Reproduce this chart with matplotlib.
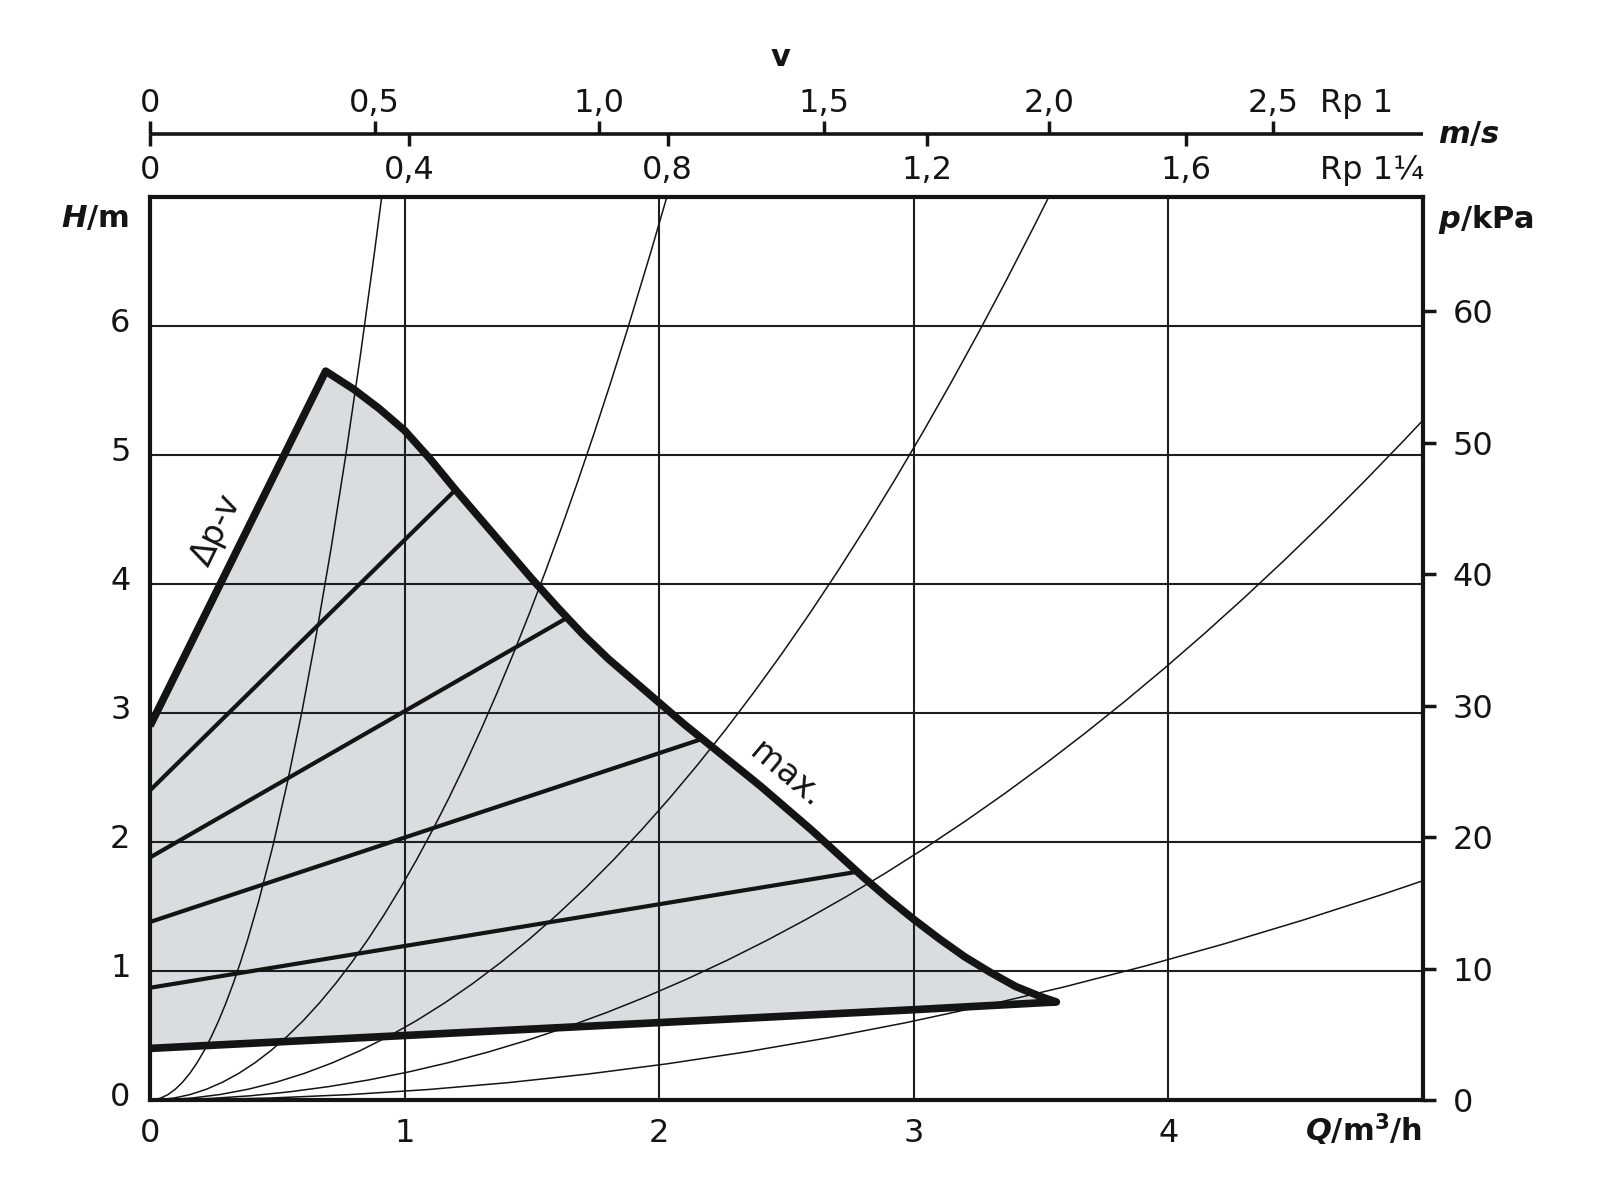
import matplotlib
matplotlib.use('Agg')
import matplotlib.pyplot as plt
import matplotlib.transforms as mtransforms
from matplotlib.path import Path
from matplotlib.patches import PathPatch
import numpy as np

plt.rcParams['font.family'] = ['DejaVu Sans']
plt.rcParams['mathtext.fontset'] = 'custom'
plt.rcParams['mathtext.it'] = 'DejaVu Sans:italic:bold'
plt.rcParams['mathtext.rm'] = 'DejaVu Sans:bold'
plt.rcParams['mathtext.bf'] = 'DejaVu Sans:bold'

# pump field (Q in m3/h, H in m)
q_dpv = [0.0, 0.69]
h_dpv = [2.90, 5.65]
q_max = [0.69, 0.80, 0.90, 1.00, 1.10, 1.20, 1.30, 1.40, 1.50, 1.60, 1.70,
         1.80, 1.90, 2.00, 2.10, 2.20, 2.30, 2.40, 2.50, 2.60, 2.70, 2.80,
         2.90, 3.00, 3.10, 3.20, 3.30, 3.40, 3.50, 3.56]
h_max = [5.65, 5.51, 5.36, 5.19, 4.97, 4.73, 4.50, 4.27, 4.04, 3.82, 3.61,
         3.42, 3.25, 3.08, 2.91, 2.75, 2.59, 2.43, 2.26, 2.09, 1.91, 1.73,
         1.56, 1.40, 1.25, 1.11, 0.99, 0.88, 0.80, 0.76]
q_min = [3.56, 3.0, 2.0, 1.0, 0.0]
h_min = [0.76, 0.70, 0.60, 0.50, 0.40]

# intermediate lines: start on H axis, end on the max curve
h_start = [2.40, 1.88, 1.38, 0.87]
q_end = [1.20, 1.64, 2.17, 2.78]
h_end = [4.73, 3.74, 2.80, 1.77]

# system curves (parabolas through the origin): where each one leaves the chart
sys_end_q = [0.91, 2.03, 3.53, 5.0, 5.0]
sys_end_h = [7.0, 7.0, 7.0, 5.27, 1.70]

q_ticks = [0, 1, 2, 3, 4]
h_ticks = [0, 1, 2, 3, 4, 5, 6]
p_ticks = [0, 10, 20, 30, 40, 50, 60]

# velocity scales (m/s) for the two pipe sizes
v_rp1 = [0, 0.5, 1.0, 1.5, 2.0, 2.5]
v_rp1_lbl = ['0', '0,5', '1,0', '1,5', '2,0', '2,5']
v_rp114 = [0, 0.4, 0.8, 1.2, 1.6]
v_rp114_lbl = ['0', '0,4', '0,8', '1,2', '1,6']
q_per_v_rp1 = 1.765
q_per_v_rp114 = 2.542

ink = '#141414'
fs = 23

W, H = 1600, 1200
fig = plt.figure(figsize=(16, 12), dpi=100)
ax = fig.add_axes([150 / W, 100 / H, 1273 / W, 903 / H])
ax.set_xlim(0, 5)
ax.set_ylim(0, 7)

ax.set_xticks([0, 1, 2, 3, 4, 5])
ax.set_xticklabels([str(t) for t in q_ticks] + [''])
ax.set_yticks([0, 1, 2, 3, 4, 5, 6, 7])
ax.set_yticklabels([str(t) for t in h_ticks] + [''])
ax.tick_params(axis='x', length=0, pad=13, labelsize=fs, labelcolor=ink)
ax.tick_params(axis='y', length=0, pad=14, labelsize=fs, labelcolor=ink)
ax.grid(True, color='#1e1e1e', lw=1.5)
for s in ax.spines.values():
    s.set_linewidth(3)
    s.set_color(ink)

# left labels sit a little above their grid lines in the original
lift = mtransforms.ScaledTranslation(0, 0.06, fig.dpi_scale_trans)
for lab in ax.yaxis.get_majorticklabels():
    lab.set_transform(lab.get_transform() + lift)

# grey operating field
poly_q = q_dpv + q_max[1:] + q_min[1:]
poly_h = h_dpv + h_max[1:] + h_min[1:]
ax.fill(poly_q, poly_h, color='#dbdce0', lw=0, zorder=1)

# system curves as quadratic Bezier paths (exact parabolas)
for qe, he in zip(sys_end_q, sys_end_h):
    path = Path([(0, 0), (qe / 2, 0), (qe, he)],
                [Path.MOVETO, Path.CURVE3, Path.CURVE3])
    ax.add_patch(PathPatch(path, fill=False, lw=1.1, ec=ink, zorder=2))

for h0, q1, h1 in zip(h_start, q_end, h_end):
    ax.plot([0, q1], [h0, h1], color=ink, lw=3, zorder=3, solid_capstyle='butt')

ax.plot(poly_q, poly_h, color=ink, lw=5.5, zorder=4,
        solid_joinstyle='round', solid_capstyle='butt')

ax.text(0.26, 4.42, 'Δp-v', rotation=64, fontsize=24, color=ink,
        ha='center', va='center', rotation_mode='anchor')
ax.text(2.50, 2.52, 'max.', rotation=-40, fontsize=24, color=ink,
        ha='center', va='center', rotation_mode='anchor')

# right axis in kPa
ax2 = ax.twinx()
ax2.set_ylim(0, 7 * 9.81)
ax2.set_yticks(p_ticks)
ax2.set_yticklabels([str(t) for t in p_ticks])
ax2.tick_params(axis='y', direction='out', length=9.5, width=2.5, pad=12,
                labelsize=fs, labelcolor=ink, color=ink)
for s in ax2.spines.values():
    s.set_visible(False)

# velocity scale on top
line_y = 134
axv = fig.add_axes([150 / W, 1 - (line_y + 13) / H, 1273 / W, 26 / H])
axv.set_xlim(0, 5)
axv.set_ylim(-1, 1)
axv.axis('off')
axv.plot([0, 5], [0, 0], color=ink, lw=2.6, solid_capstyle='butt', clip_on=False)
q1 = np.array(v_rp1) * q_per_v_rp1
q2 = np.array(v_rp114) * q_per_v_rp114
axv.vlines(q1, 0, 1, color=ink, lw=2.5, clip_on=False)
axv.vlines(q2, -0.95, 0, color=ink, lw=2.5, clip_on=False)
for x, s in zip(q1, v_rp1_lbl):
    axv.text(x, 2.38, s, ha='center', va='center', fontsize=fs, color=ink)
for x, s in zip(q2, v_rp114_lbl):
    axv.text(x, -2.77, s, ha='center', va='center', fontsize=fs, color=ink)
axv.text(4.595, 2.38, 'Rp 1', ha='left', va='center', fontsize=fs, color=ink)
axv.text(4.595, -2.77, 'Rp 1¼', ha='left', va='center', fontsize=fs, color=ink)

# axis titles
fig.text(780 / W, 1 - 57 / H, 'v', ha='center', va='center', fontsize=22,
         fontweight='bold', color=ink)
fig.text(1438 / W, 1 - 134 / H, r'$\mathit{m/s}$', ha='left', va='center',
         fontsize=22, color=ink)
fig.text(129 / W, 1 - 218 / H, r'$\mathit{H}\mathrm{/m}$', ha='right', va='center',
         fontsize=22, color=ink)
fig.text(1438 / W, 1 - 220 / H, r'$\mathit{p}\mathrm{/kPa}$', ha='left', va='center',
         fontsize=22, color=ink)
fig.text(1422 / W, 1 - 1130 / H, r'$\mathit{Q}\mathrm{/m^{3}/h}$', ha='right',
         va='center', fontsize=22, color=ink)

fig.savefig('out.png', dpi=100, facecolor='white')
